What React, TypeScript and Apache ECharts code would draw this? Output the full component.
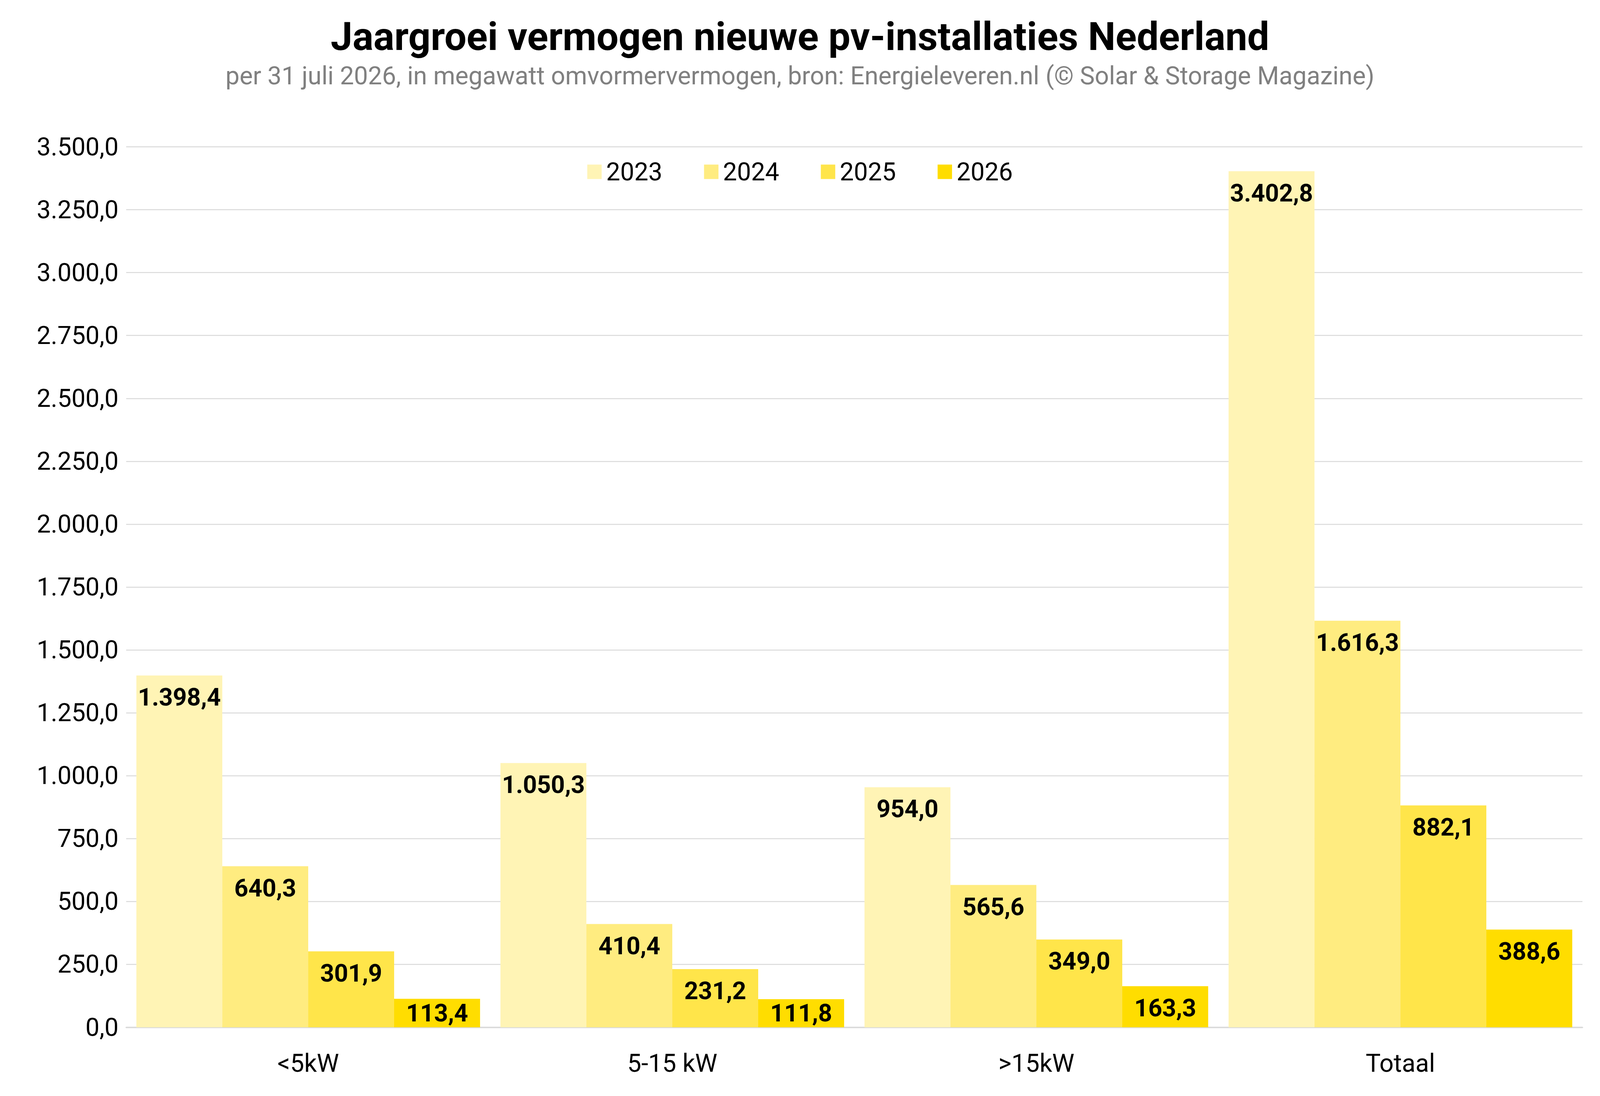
import React, { useEffect, useRef } from 'react';
import * as echarts from 'echarts';

const categories = ['<5kW', '5-15 kW', '>15kW', 'Totaal'];
const years = ['2023', '2024', '2025', '2026'];
const values2023 = [1398.4, 1050.3, 954.0, 3402.8];
const values2024 = [640.3, 410.4, 565.6, 1616.3];
const values2025 = [301.9, 231.2, 349.0, 882.1];
const values2026 = [113.4, 111.8, 163.3, 388.6];
const colors = ['#FFF4B5', '#FFEC80', '#FFE54A', '#FFDD00'];

const nl = (v: number) =>
  v.toLocaleString('nl-NL', { minimumFractionDigits: 1, maximumFractionDigits: 1 });

const App: React.FC = () => {
  const chartRef = useRef<HTMLDivElement>(null);
  const w = Math.max(window.innerWidth - 16, 800);
  const h = Math.max(window.innerHeight - 16, 450);

  useEffect(() => {
    if (!chartRef.current) return;
    const chart = echarts.init(chartRef.current, undefined, { renderer: 'svg' });
    const all = [values2023, values2024, values2025, values2026];
    const s = w / 4973;
    const sy = h / 2791;

    chart.setOption({
      animation: false,
      textStyle: { fontFamily: 'Roboto' },
      title: {
        text: 'Jaargroei vermogen nieuwe pv-installaties Nederland',
        subtext: 'per 31 juli 2026, in megawatt omvormervermogen, bron: Energieleveren.nl (© Solar & Storage Magazine)',
        left: 'center',
        top: 30 * sy,
        itemGap: 24 * s,
        textStyle: { fontSize: 122 * s, fontWeight: 'bold', color: '#000' },
        subtextStyle: { fontSize: 78 * s, color: '#808080' }
      },
      legend: {
        data: years,
        top: 395 * sy,
        left: 'center',
        itemWidth: 45 * s,
        itemHeight: 45 * s,
        itemGap: 130 * s,
        icon: 'rect',
        textStyle: { fontSize: 78 * s, color: '#000', padding: [0, 0, 0, 8 * s] }
      },
      grid: { left: 384 * s, right: 45 * s, top: 368 * sy, bottom: 168 * sy },
      xAxis: {
        type: 'category',
        data: categories,
        axisLine: { lineStyle: { color: '#d9d9d9', width: 4 * s } },
        axisTick: { show: false },
        axisLabel: { fontSize: 78 * s, color: '#000', margin: 60 * sy }
      },
      yAxis: {
        type: 'value',
        min: 0,
        max: 3500,
        interval: 250,
        axisLabel: { fontSize: 78 * s, color: '#000', formatter: (v: number) => nl(v), margin: 24 * s },
        splitLine: { lineStyle: { color: '#d9d9d9', width: 3 * s } }
      },
      series: years.map((y, i) => ({
        name: y,
        type: 'bar',
        data: all[i].map(v =>
          v < 150 ? { value: v, label: { position: 'inside' } } : v
        ),
        barGap: '0%',
        barCategoryGap: '5.6%',
        itemStyle: { color: colors[i] },
        label: {
          show: true,
          position: 'insideTop',
          distance: 30 * s,
          fontSize: 76 * s,
          fontWeight: 'bold',
          color: '#000',
          formatter: (p: any) => nl(p.value)
        }
      }))
    });

    return () => chart.dispose();
  }, []);

  return <div ref={chartRef} style={{ width: w, height: h, background: '#fff' }} />;
};

export default App;
